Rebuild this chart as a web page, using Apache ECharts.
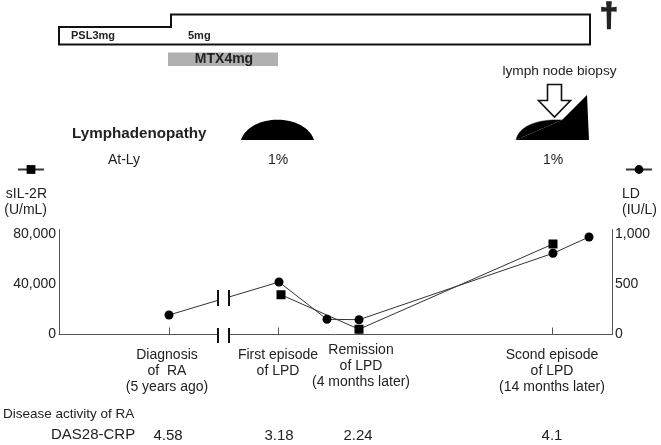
<!DOCTYPE html>
<html><head><meta charset="utf-8">
<style>html,body{margin:0;padding:0;background:#fff}#c{width:661px;height:445px}</style>
<script src="https://cdn.jsdelivr.net/npm/echarts@6/dist/echarts.min.js"></script>
</head><body><div id="c"></div>
<script>
// x positions are on the figure's schematic (non-linear) timeline
const sIL2R = [[222, 31800], [300, 4200], [494, 72400]];
const LD = [[110, 195], [220, 525], [268, 152], [300, 148], [494, 812], [530, 975]];
const eventTicks = [110, 219, 299, 493];
const eventLabelAt = [108, 219, 493];
const eventLabels = ['Diagnosis\nof  RA\n(5 years ago)', 'First episode\nof LPD', 'Scond episode\nof LPD\n(14 months later)'];
const remissionAt = [302];
const remissionLabel = 'Remission\nof LPD\n(4 months later)';
const dasAt = [109, 220, 299, 493];
const dasValues = ['4.58', '3.18', '2.24', '4.1'];
const leftTicks = [0, 40000, 80000];
const rightTicks = [0, 500, 1000];
const breakX = [159, 170];
const breakSpans = [[22800, 35600], [-6800, 5200]];

const FONT = '"Liberation Sans", Arial, sans-serif';
const INK = '#222';
const AX = '#555';
const t = (x, y, text, size, opt) => ({
  type: 'text', x, y: y + 1, silent: true,
  style: Object.assign({ text, fill: INK, font: (opt && opt.bold ? 'bold ' : '') + size + 'px ' + FONT,
    textAlign: (opt && opt.align) || 'left', textVerticalAlign: 'middle', verticalAlign: 'middle' },
    opt && opt.stroke ? { stroke: INK, lineWidth: opt.stroke } : {})
});
const fmt = v => Number(v).toLocaleString('en-US');
const chart = echarts.init(document.getElementById('c'), null, { renderer: 'canvas' });
const hiddenX = extra => Object.assign({
  type: 'value', min: 0, max: 553, position: 'bottom', gridIndex: 0,
  axisLine: { show: false }, axisTick: { show: false }, splitLine: { show: false }
}, extra);

chart.setOption({
  animation: false,
  backgroundColor: '#fff',
  textStyle: { fontFamily: FONT },
  grid: { left: 59, right: 49, top: 229.5, bottom: 110.5 },
  legend: [
    { data: ['sIL-2R'], left: 17, top: 164, itemWidth: 26, itemHeight: 11, selectedMode: false, formatter: () => '', padding: 0 },
    { data: ['LD'], left: 625, top: 164, itemWidth: 26, itemHeight: 11, selectedMode: false, formatter: () => '', padding: 0 }
  ],
  xAxis: [
    hiddenX({
      axisLine: { show: true, onZero: false, lineStyle: { color: AX, width: 1 } },
      axisTick: { show: true, inside: true, length: 7, customValues: eventTicks, lineStyle: { color: AX } },
      axisLabel: { customValues: eventLabelAt, margin: 12.5, fontSize: 14, lineHeight: 16, color: INK, align: 'center',
        formatter: v => eventLabels[eventLabelAt.indexOf(v)], hideOverlap: false, showMinLabel: true, showMaxLabel: true }
    }),
    hiddenX({
      axisLabel: { customValues: remissionAt, margin: 7.5, fontSize: 14, lineHeight: 16, color: INK,
        formatter: () => remissionLabel }
    }),
    hiddenX({
      axisLabel: { customValues: dasAt, margin: 93, fontSize: 15, lineHeight: 16, color: INK,
        formatter: v => dasValues[dasAt.indexOf(v)] }
    })
  ],
  yAxis: [
    { type: 'value', min: 0, max: 84000, position: 'left',
      name: 'sIL-2R\n(U/mL)', nameLocation: 'end', nameGap: 11,
      nameTextStyle: { fontSize: 14, lineHeight: 16, color: INK, align: 'right', verticalAlign: 'bottom', padding: [0, 12, 0, 0] },
      axisLine: { show: true, onZero: false, lineStyle: { color: AX } }, axisTick: { show: false }, splitLine: { show: false },
      axisLabel: { customValues: leftTicks, margin: 3, fontSize: 14, color: INK, padding: [0, 0, 4, 0], formatter: fmt } },
    { type: 'value', min: 0, max: 1050, position: 'right',
      name: 'LD\n(IU/L)', nameLocation: 'end', nameGap: 11,
      nameTextStyle: { fontSize: 14, lineHeight: 16, color: INK, align: 'left', verticalAlign: 'bottom', padding: [0, 0, 0, 10] },
      axisLine: { show: true, onZero: false, lineStyle: { color: AX } }, axisTick: { show: false }, splitLine: { show: false },
      axisLabel: { customValues: rightTicks, margin: 3, fontSize: 14, color: INK, padding: [0, 0, 4, 0], formatter: fmt } }
  ],
  series: [
    { name: 'sIL-2R', type: 'line', yAxisIndex: 0, data: sIL2R, symbol: 'rect', symbolSize: 9, z: 3,
      itemStyle: { color: '#000' }, lineStyle: { color: '#333', width: 1 } },
    { name: 'LD', type: 'line', yAxisIndex: 1, data: LD, symbol: 'circle', symbolSize: 9, z: 3,
      itemStyle: { color: '#000' }, lineStyle: { color: '#333', width: 1 } },
    { name: 'axis break', type: 'custom', z: 5, silent: true, yAxisIndex: 0, data: [breakX],
      renderItem: (p, api) => {
        const children = [];
        const x0 = api.value(0), x1 = api.value(1);
        const a = api.coord([x0, breakSpans[1][0]]), b = api.coord([x1, breakSpans[0][1]]);
        children.push({ type: 'rect', shape: { x: a[0], y: b[1], width: b[0] - a[0], height: a[1] - b[1] }, style: { fill: '#fff' } });
        breakSpans.forEach(s => [x0, x1].forEach(x => {
          const p0 = api.coord([x, s[0]]), p1 = api.coord([x, s[1]]);
          children.push({ type: 'line', shape: { x1: p0[0], y1: p0[1], x2: p1[0], y2: p1[1] }, style: { stroke: '#111', lineWidth: 2 } });
        }));
        return { type: 'group', children };
      } }
  ],
  graphic: [
    { type: 'polygon', silent: true, shape: { points: [[59, 27], [171, 27], [171, 14.5], [590, 14.5], [590, 44.5], [59, 44.5]] },
      style: { fill: '#fff', stroke: '#111', lineWidth: 2 } },
    t(71, 35, 'PSL3mg', 11, { bold: true }),
    t(188, 35, '5mg', 11, { bold: true }),
    { type: 'rect', silent: true, shape: { x: 168, y: 52.5, width: 110, height: 13.5 }, style: { fill: '#b0b0b0' } },
    t(224, 58, 'MTX4mg', 14, { bold: true, align: 'center' }),
    t(609, 15.5, '†', 33, { bold: true, align: 'center', stroke: 1.5 }),
    t(559.5, 70, 'lymph node biopsy', 13.7, { align: 'center' }),
    t(72, 133, 'Lymphadenopathy', 15.2, { bold: true }),
    { type: 'bezierCurve', silent: true, shape: { x1: 241, y1: 140, cpx1: 250, cpy1: 113, cpx2: 305, cpy2: 113, x2: 314, y2: 140 }, style: { fill: '#000', stroke: null } },
    { type: 'polygon', silent: true, shape: { points: [[516, 140], [562, 120], [587, 95], [589, 140]] }, style: { fill: '#000', stroke: null } },
    { type: 'bezierCurve', silent: true, shape: { x1: 516, y1: 140, cpx1: 519, cpy1: 126, cpx2: 537, cpy2: 119, x2: 562, y2: 120 }, style: { fill: '#000', stroke: '#000', lineWidth: 0.5 } },
    { type: 'polygon', silent: true, shape: { points: [[547.5, 84.5], [561.5, 84.5], [561.5, 100.5], [570.5, 100.5], [554.5, 117], [538.5, 100.5], [547.5, 100.5]] },
      style: { fill: '#fff', stroke: '#111', lineWidth: 1.6 } },
    t(124, 159, 'At-Ly', 14, { align: 'center' }),
    t(278, 159, '1%', 14, { align: 'center' }),
    t(553, 159, '1%', 14, { align: 'center' }),
    t(3, 413, 'Disease activity of RA', 13.5),
    t(51, 434, 'DAS28-CRP', 15)
  ]
});
</script></body></html>
